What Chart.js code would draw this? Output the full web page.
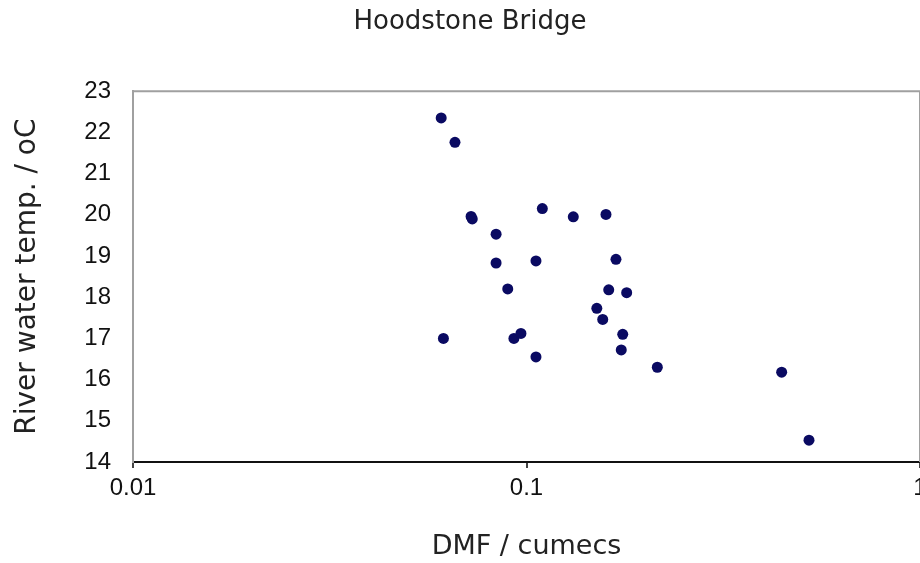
<!DOCTYPE html>
<html>
<head>
<meta charset="utf-8">
<script src="https://cdn.jsdelivr.net/npm/chart.js@4"></script>
<style>
  html, body { margin: 0; padding: 0; background: #fff; overflow: hidden; }
  .wrap { position: relative; width: 940px; height: 563px; }
</style>
</head>
<body>
<div class="wrap"><canvas id="c"></canvas></div>
<script>
// DMF (cumecs) vs river water temperature (oC)
const dmf  = [0.0607, 0.0658, 0.0723, 0.0728, 0.1097, 0.1315, 0.1592, 0.0837, 0.0837, 0.1057, 0.1688, 0.0896,
              0.1618, 0.1797, 0.1509, 0.1562, 0.0615, 0.0929, 0.0968, 0.1756, 0.1741, 0.1057, 0.2150, 0.4451, 0.5223];
const temp = [22.35, 21.76, 19.96, 19.90, 20.15, 19.95, 20.01, 19.53, 18.83, 18.88, 18.92, 18.20,
              18.18, 18.11, 17.73, 17.46, 17.00, 17.00, 17.12, 17.10, 16.72, 16.55, 16.30, 16.18, 14.53];
const xTicks = [0.01, 0.1, 1];
const yMin = 14, yMax = 23;

const points = dmf.map((x, i) => ({ x, y: temp[i] }));

// grey frame on top / right of the plot area, like the old spreadsheet chart
const frame = {
  id: 'frame',
  beforeDatasetsDraw(chart) {
    const { ctx, chartArea: a } = chart;
    ctx.save();
    ctx.strokeStyle = '#a0a0a0';
    ctx.lineWidth = 2;
    ctx.beginPath();
    ctx.moveTo(a.left, a.top); ctx.lineTo(a.right, a.top); ctx.lineTo(a.right, a.bottom);
    ctx.stroke();
    ctx.restore();
  }
};

new Chart(document.getElementById('c'), {
  type: 'scatter',
  data: { datasets: [{ data: points, backgroundColor: '#0a0a62', borderWidth: 0, pointRadius: 5.5, pointHoverRadius: 5.5 }] },
  plugins: [frame],
  options: {
    responsive: true, maintainAspectRatio: false, animation: false,
    layout: { padding: { left: 20, right: 20, top: 0, bottom: 0 } },
    plugins: {
      legend: { display: false }, tooltip: { enabled: false },
      title: { display: true, text: 'Hoodstone Bridge', color: '#222', font: { family: 'DejaVu Sans', size: 26, weight: 'normal', lineHeight: 1.2 }, padding: { top: 7, bottom: 53 } }
    },
    scales: {
      x: {
        type: 'logarithmic', min: 0.01, max: 1,
        afterBuildTicks: s => { s.ticks = xTicks.map(v => ({ value: v })); },
        afterFit: s => { s.height = 101; },
        grid: { drawOnChartArea: false, drawTicks: true, tickLength: 6, color: '#444', lineWidth: 2 },
        border: { display: true, color: '#111', width: 2 },
        ticks: { color: '#111', padding: 6, maxRotation: 0, autoSkip: false, font: { family: 'Liberation Sans', size: 24 }, callback: v => String(v) },
        title: { display: true, text: 'DMF / cumecs', color: '#222', font: { family: 'DejaVu Sans', size: 27, lineHeight: 1.2 }, padding: { top: 0, bottom: 0 } }
      },
      y: {
        min: yMin, max: yMax,
        afterFit: s => { s.width = 113; },
        grid: { display: false, drawTicks: false },
        border: { display: true, color: '#a0a0a0', width: 2 },
        ticks: { stepSize: 1, color: '#111', padding: 22, font: { family: 'Liberation Sans', size: 24 } },
        title: { display: true, text: 'River water temp. / oC', color: '#222', font: { family: 'DejaVu Sans', size: 28, lineHeight: 1 }, padding: { top: -6, bottom: 0 } }
      }
    }
  }
});
</script>
</body>
</html>
